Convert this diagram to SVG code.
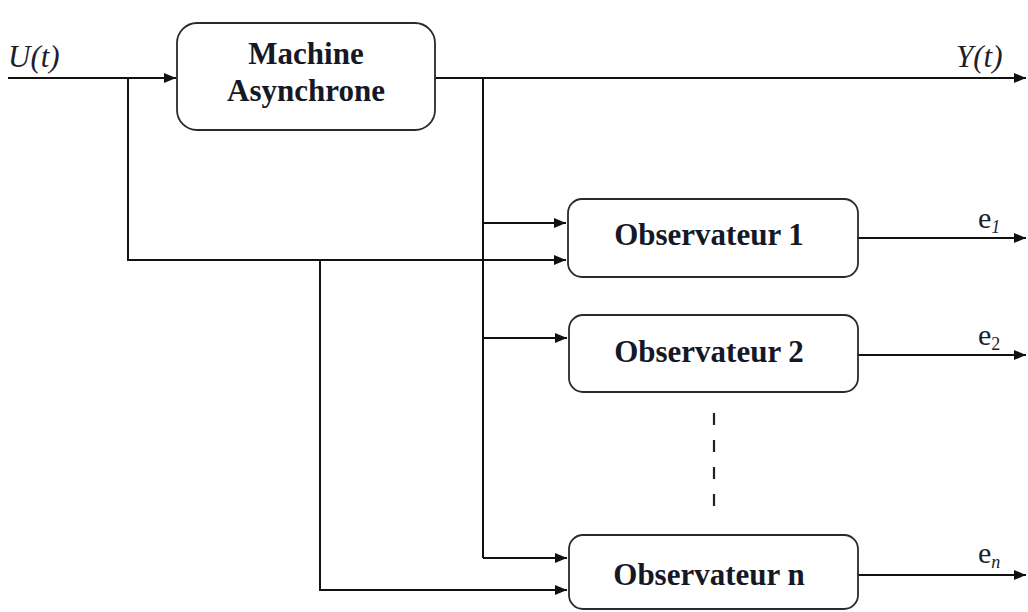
<svg xmlns="http://www.w3.org/2000/svg" width="1028" height="612" viewBox="0 0 1028 612">
  <style>
    .box { fill: #ffffff; stroke: #2a2a2a; stroke-width: 1.8; }
    .lbl { font-family: "Liberation Serif", "Times New Roman", serif; font-weight: bold; font-size: 31px; fill: #161826; text-anchor: middle; }
    .sig { font-family: "Liberation Serif", "Times New Roman", serif; font-style: italic; font-size: 31px; fill: #1e1e2a; }
    .res { font-family: "Liberation Serif", "Times New Roman", serif; font-size: 30px; fill: #1e1e2a; }
    .sub { font-size: 18px; font-style: italic; }
    .wire { fill: none; stroke: #111111; stroke-width: 2; }
    .dash { fill: none; stroke: #222222; stroke-width: 2.2; stroke-dasharray: 12 15; }
  </style>
  <defs>
    <marker id="arrow" viewBox="0 0 12 10" refX="12" refY="5" markerWidth="12" markerHeight="10" markerUnits="userSpaceOnUse" orient="auto">
      <path d="M0,0 L12,5 L0,10 Z" fill="#111111"/>
    </marker>
  </defs>
  <rect width="1028" height="612" fill="#ffffff"/>

  <g id="connectors">
    <!-- input U(t) into the machine -->
    <path class="wire" d="M8,78 H176" marker-end="url(#arrow)"/>
    <!-- machine output Y(t) -->
    <path class="wire" d="M435,78 H1026" marker-end="url(#arrow)"/>
    <!-- output tap down to the observers -->
    <path class="wire" d="M483,78 V558"/>
    <path class="wire" d="M483,223 H566" marker-end="url(#arrow)"/>
    <path class="wire" d="M483,338 H567" marker-end="url(#arrow)"/>
    <path class="wire" d="M483,558 H567" marker-end="url(#arrow)"/>
    <!-- input tap down to the observers -->
    <path class="wire" d="M128,78 V260 H566" marker-end="url(#arrow)"/>
    <path class="wire" d="M320,260 V590 H567" marker-end="url(#arrow)"/>
    <!-- residual outputs -->
    <path class="wire" d="M858,238 H1026" marker-end="url(#arrow)"/>
    <path class="wire" d="M858,355 H1026" marker-end="url(#arrow)"/>
    <path class="wire" d="M858,575 H1026" marker-end="url(#arrow)"/>
    <!-- ellipsis between observers -->
    <path class="dash" d="M714,413 V510"/>
  </g>

  <g id="signal-labels">
    <text class="sig" x="8" y="67">U(t)</text>
    <text class="sig" x="956" y="67">Y(t)</text>
    <text class="res" x="978" y="228">e<tspan class="sub" dy="5">1</tspan></text>
    <text class="res" x="978" y="345">e<tspan class="sub" dy="5" style="font-style:normal">2</tspan></text>
    <text class="res" x="978" y="563">e<tspan class="sub" dy="5">n</tspan></text>
  </g>

  <g id="machine">
    <rect class="box" x="177" y="23" width="258" height="107" rx="20" ry="20"/>
    <text class="lbl" x="306" y="64">Machine</text>
    <text class="lbl" x="306" y="101">Asynchrone</text>
  </g>

  <g id="observer-1">
    <rect class="box" x="568" y="199" width="290" height="78" rx="14" ry="14"/>
    <text class="lbl" x="709" y="245">Observateur 1</text>
  </g>

  <g id="observer-2">
    <rect class="box" x="569" y="315" width="289" height="77" rx="14" ry="14"/>
    <text class="lbl" x="709" y="362">Observateur 2</text>
  </g>

  <g id="observer-n">
    <rect class="box" x="569" y="535" width="289" height="74" rx="14" ry="14"/>
    <text class="lbl" x="709" y="585">Observateur n</text>
  </g>
</svg>
